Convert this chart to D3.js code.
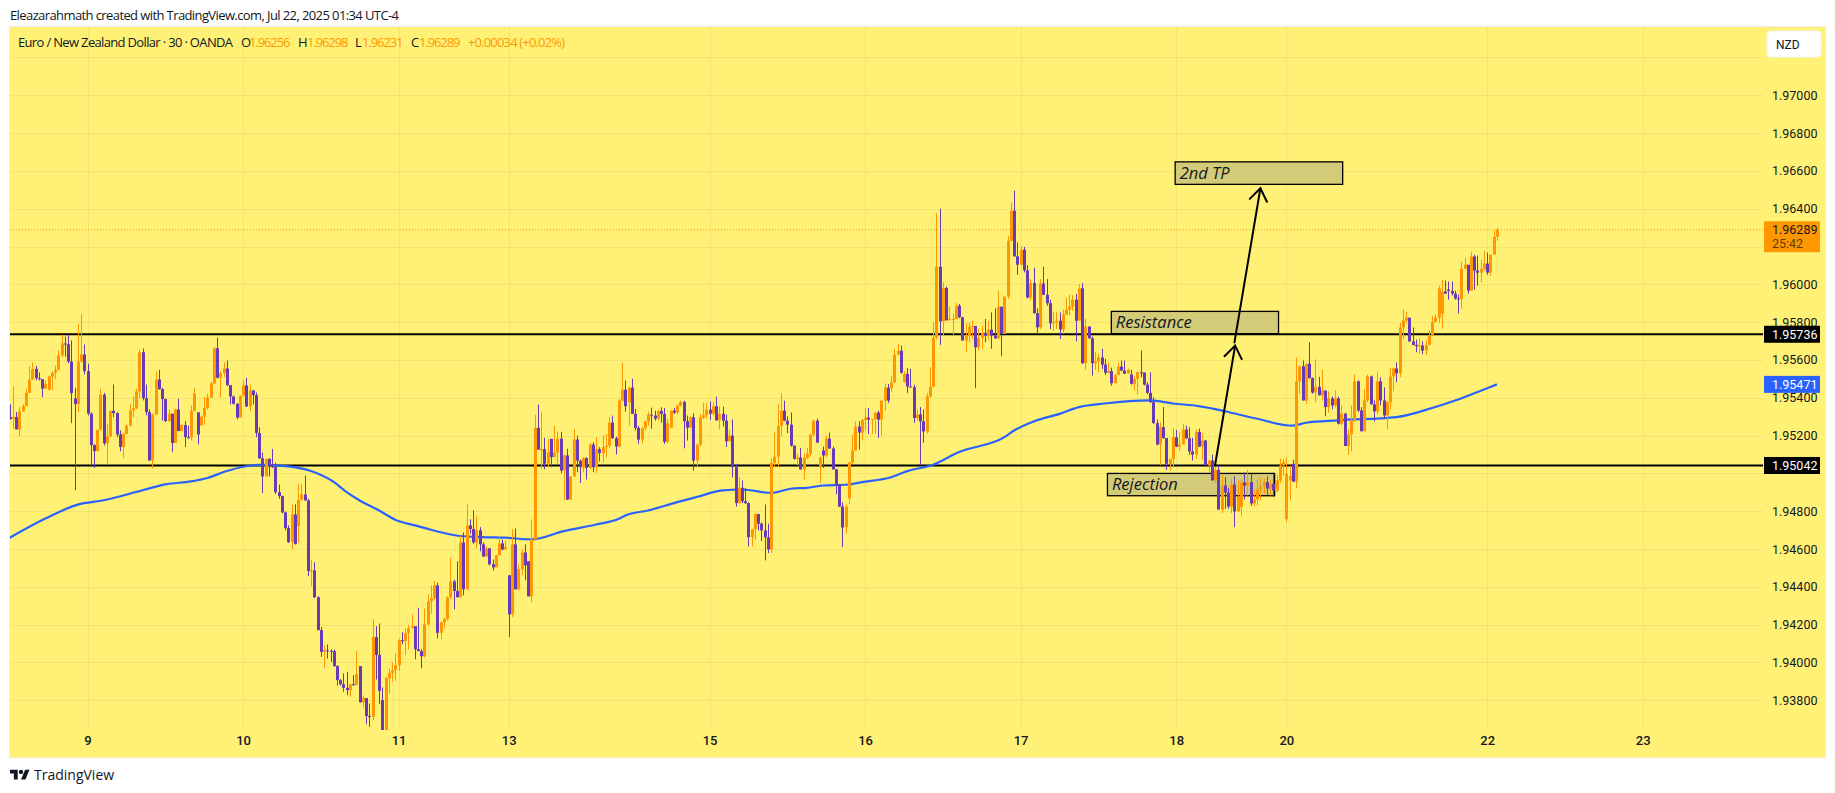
<!DOCTYPE html>
<html>
<head>
<meta charset="utf-8">
<script src="https://cdn.jsdelivr.net/npm/d3@7"></script>
<style>
  html, body { margin: 0; padding: 0; background: #fff; overflow: hidden; }
  svg { display: block; }
  text { font-family: "Open Sans", sans-serif; }
</style>
</head>
<body>
<div id="chart"></div>
<script>
// candle values, pipettes above 1 (95289 = 1.95289). open is the previous close unless listed in gapOpens
const closes = [
95289,95298,95233,95328,95358,95426,95497,95553,95504,95499,
95449,95474,95513,95534,95548,95624,95687,95683,95592,95425,
95367,95592,95629,95541,95316,95150,95118,95231,95416,95159,
95196,95331,95319,95206,95140,95210,95252,95333,95344,95434,
95641,95398,95324,95069,95312,95497,95446,95393,95277,95316,
95161,95338,95224,95256,95192,95191,95331,95423,95206,95300,
95347,95402,95476,95662,95506,95530,95555,95467,95407,95368,
95296,95412,95465,95354,95439,95414,95214,95080,94984,95077,
95038,95033,94901,94880,94794,94711,94637,94783,94626,94861,
94889,94857,94484,94487,94345,94171,94056,94065,94061,94060,
93981,93907,93885,93866,93854,93885,93880,93938,93790,93812,
93717,93713,94134,94040,93850,93590,93917,93944,93959,93986,
94118,94114,94155,94183,94192,94070,94060,94033,94202,94324,
94340,94408,94157,94213,94229,94345,94429,94378,94345,94635,
94387,94725,94706,94635,94699,94625,94561,94604,94519,94503,
94567,94630,94598,94611,94255,94625,94387,94493,94582,94514,
94350,94651,95241,95126,95128,95051,95112,95086,95110,95184,
95015,95095,94862,94984,95179,95068,95033,95081,95029,95153,
95033,95128,95107,95139,95146,95269,95186,95142,95385,95443,
95355,95454,95315,95241,95179,95241,95276,95311,95306,95290,
95330,95315,95167,95264,95332,95322,95359,95378,95276,95242,
95297,95068,95153,95295,95309,95337,95316,95355,95281,95315,
95279,95170,95200,95033,94843,94924,94853,94843,94663,94704,
94785,94734,94699,94662,94598,95056,95089,95253,95332,95279,
95258,95147,95077,95084,95021,95082,95103,95205,95279,95163,
95084,95095,95184,95132,95021,94941,94825,94714,94825,95058,
95121,95248,95216,95283,95295,95285,95288,95322,95285,95385,
95454,95385,95480,95628,95649,95532,95527,95460,95456,95293,
95312,95275,95222,95407,95458,95718,96093,95805,95981,95810,
95817,95817,95887,95826,95703,95729,95777,95780,95667,95717,
95741,95729,95761,95729,95715,95882,95738,95935,96231,96389,
96148,96104,96183,96074,95930,96007,95847,95773,96005,95945,
95900,95794,95798,95808,95761,95840,95866,95882,95919,95808,
95979,95583,95777,95715,95583,95592,95613,95576,95532,95541,
95477,95520,95565,95544,95528,95548,95474,95500,95535,95534,
95470,95426,95377,95266,95153,95245,95187,95051,95077,95191,
95142,95153,95232,95186,95116,95100,95220,95142,95174,95042,
95068,94963,95019,94809,94936,94899,94825,94941,94799,94875,
94952,94936,94954,94841,94862,94915,94931,94954,94920,94945,
94910,94963,95042,95059,95000,94987,94957,95487,95567,95386,
95580,95504,95428,95458,95413,95439,95351,95397,95360,95397,
95263,95316,95145,95207,95279,95487,95333,95223,95386,95513,
95365,95328,95487,95386,95307,95376,95513,95555,95529,95772,
95809,95824,95698,95680,95673,95677,95650,95680,95729,95803,
95824,95978,95962,95951,95965,95951,95925,95923,96083,96104,
95967,96147,96073,96062,96081,96110,96062,96157,96252,96289];

const highs = [
95365,95460,95324,95351,95365,95448,95567,95587,95569,95534,
95492,95492,95518,95537,95571,95650,95734,95724,95734,95703,
95453,95791,95844,95682,95580,95323,95154,95231,95448,95426,
95263,95331,95470,95323,95228,95210,95259,95368,95407,95448,
95654,95661,95470,95340,95316,95541,95548,95453,95397,95338,
95312,95342,95395,95259,95277,95252,95360,95453,95323,95300,
95404,95421,95485,95668,95719,95541,95588,95597,95467,95412,
95372,95412,95492,95506,95470,95442,95428,95245,95110,95077,
95079,95130,95056,94941,94883,94799,94725,94836,94836,94947,
94945,94989,94866,94544,94530,94350,94188,94091,94095,94070,
94069,93986,93912,93942,93951,93889,93933,94060,93981,93826,
93801,93783,94229,94192,94206,93868,93924,93968,94002,94047,
94127,94160,94179,94197,94255,94188,94287,94070,94285,94361,
94408,94429,94422,94213,94236,94350,94553,94438,94535,94672,
94688,94836,94757,94804,94778,94716,94635,94614,94604,94545,
94570,94672,94649,94646,94461,94704,94709,94519,94598,94625,
94535,94757,95309,95364,95327,95188,95183,95183,95253,95221,
95220,95100,95130,94984,95235,95200,95072,95086,95086,95160,
95165,95191,95139,95200,95209,95299,95306,95195,95392,95586,
95491,95459,95501,95341,95251,95244,95276,95327,95348,95332,
95339,95350,95346,95290,95332,95346,95364,95385,95385,95306,
95302,95318,95153,95315,95373,95371,95380,95376,95406,95353,
95353,95311,95230,95285,95051,94980,94963,94924,94846,94704,
94790,94787,94741,94836,94734,95081,95218,95367,95425,95385,
95302,95322,95147,95103,95135,95107,95135,95209,95285,95290,
95089,95142,95200,95216,95142,95024,94945,94846,94836,95058,
95205,95276,95276,95288,95348,95346,95288,95322,95332,95385,
95473,95473,95517,95658,95684,95676,95542,95557,95553,95469,
95338,95351,95338,95426,95562,95799,96377,96400,96011,95989,
95882,95843,95901,95896,95828,95796,95799,95808,95778,95764,
95782,95817,95808,95852,95873,95967,95882,95935,96257,96433,
96495,96222,96204,96199,96102,96028,96088,95873,96028,96093,
96028,95919,95856,95852,95852,95866,95930,95944,95944,95949,
96000,96007,95817,95777,95724,95641,95632,95659,95606,95588,
95560,95527,95588,95597,95597,95553,95548,95518,95539,95650,
95532,95483,95535,95403,95285,95271,95351,95187,95077,95241,
95230,95218,95262,95253,95244,95188,95235,95237,95214,95177,
95068,95100,95042,95042,94989,94980,94924,94971,94984,94963,
94966,95005,95019,94998,94910,94966,94977,94971,94984,94963,
94994,94994,95077,95077,95086,95042,95072,95613,95571,95597,
95580,95694,95508,95603,95511,95550,95430,95434,95407,95439,
95407,95360,95321,95233,95360,95523,95492,95351,95444,95523,
95518,95386,95539,95508,95455,95381,95560,95560,95587,95796,
95867,95856,95819,95772,95708,95715,95698,95703,95756,95835,
95840,95993,96025,96020,96015,96015,95967,95946,96120,96141,
96099,96173,96157,96152,96131,96178,96168,96157,96284,96298];

const lows = [
95284,95233,95233,95198,95328,95356,95425,95495,95492,95492,
95404,95446,95439,95439,95499,95546,95615,95618,95583,95266,
94911,95324,95587,95523,95307,95043,95029,95122,95228,95148,
95048,95192,95298,95192,95117,95082,95206,95249,95298,95340,
95395,95386,95307,95066,95025,95309,95442,95280,95272,95272,
95113,95161,95224,95224,95140,95184,95175,95331,95154,95254,
95259,95338,95397,95474,95502,95402,95509,95463,95365,95365,
95287,95302,95407,95351,95330,95365,95192,95076,94896,94984,
94984,95029,94892,94866,94790,94699,94632,94600,94625,94632,
94857,94857,94456,94403,94341,94171,94030,93970,94021,94003,
93977,93878,93878,93845,93827,93819,93877,93884,93787,93762,
93674,93660,93695,93910,93780,93572,93572,93836,93898,93903,
93956,94097,94039,94069,94179,94017,94060,93970,94026,94197,
94259,94333,94127,94123,94179,94223,94338,94281,94345,94347,
94355,94385,94681,94628,94605,94588,94558,94558,94514,94487,
94514,94565,94593,94600,94134,94241,94387,94382,94461,94435,
94350,94320,94646,95126,95022,95022,95033,95033,95086,95051,
95001,94859,94859,94859,94980,95007,94949,95007,94968,95024,
95007,95003,95063,95059,95086,95133,95183,95100,95139,95381,
95327,95253,95315,95227,95156,95160,95227,95253,95237,95279,
95279,95269,95156,95160,95242,95315,95311,95353,95133,95174,
95248,95015,95033,95142,95288,95290,95283,95306,95278,95234,
95248,95140,95170,94980,94825,94843,94843,94839,94614,94614,
94649,94699,94642,94540,94579,94579,95037,95033,95195,95276,
95213,95142,95073,95042,95021,94968,95077,95089,95195,95163,
94949,95029,95086,95130,95021,94889,94822,94611,94683,94836,
95051,95121,95126,95174,95230,95209,95209,95209,95188,95200,
95332,95373,95429,95482,95624,95527,95479,95426,95456,95268,
95280,95043,95162,95210,95402,95458,95708,95680,95729,95808,
95810,95725,95817,95821,95703,95641,95694,95711,95451,95650,
95659,95694,95708,95659,95711,95708,95620,95738,95923,96227,
96148,96051,96099,96063,95926,95914,95847,95738,95764,95944,
95887,95764,95754,95764,95711,95738,95840,95835,95861,95699,
95808,95579,95549,95711,95518,95548,95535,95553,95521,95530,
95465,95479,95520,95542,95525,95525,95470,95439,95417,95509,
95465,95421,95373,95263,95148,95043,95183,95019,95015,95033,
95139,95121,95156,95183,95098,95068,95077,95139,95072,95042,
95003,94963,94949,94809,94790,94813,94813,94790,94716,94795,
94773,94862,94883,94829,94825,94831,94857,94892,94887,94883,
94875,94901,94949,94989,94743,94857,94954,94922,95421,95386,
95369,95501,95421,95377,95413,95386,95302,95321,95339,95349,
95259,95254,95145,95099,95117,95272,95325,95223,95223,95377,
95365,95275,95312,95360,95289,95233,95339,95434,95483,95509,
95712,95796,95698,95677,95641,95633,95631,95627,95677,95726,
95796,95796,95765,95951,95919,95941,95919,95846,95870,96078,
95951,95967,95972,95993,96011,96073,96051,96046,96157,96231];

const firstOpen = 95298;
// bars whose open is away from the previous close
const gapIdx = [12,20,58,59,89,108,115,154,160,167,191,204,250,251,259,272,276,346,380,394,395,396,442,444];
const gapOpens = [95442,95397,95323,95254,94721,93981,93801,94461,94535,95183,95376,95242,95038,95121,94868,95452,95483,95523,94822,94757,94963,95051,95846,95972];

// moving average at these bars
const maIdx = [0,11,21,29,41,48,56,61,67,77,85,93,100,104,108,114,119,126,130,135,139,146,153,161,171,181,188,190,197,206,212,220,226,235,241,246,251,258,263,272,277,285,293,307,310,316,324,330,338,352,359,367,375,384,396,400,410,428,439,447,456,459];
const maVals = [94660,94761,94835,94858,94911,94942,94958,94976,95013,95045,95039,95013,94955,94901,94857,94804,94755,94721,94702,94681,94669,94663,94660,94651,94695,94730,94760,94778,94804,94848,94875,94910,94915,94897,94919,94924,94936,94940,94954,94980,95012,95046,95113,95192,95227,95275,95315,95351,95370,95386,95370,95356,95329,95293,95253,95268,95281,95298,95346,95391,95451,95471];

const gridPrices = [1.972,1.97,1.968,1.966,1.964,1.962,1.96,1.958,1.956,1.954,1.952,1.95,1.948,1.946,1.944,1.942,1.94,1.938];
// labels under the NZD button and the two price tags do not show
const labelPrices = [1.97,1.968,1.966,1.964,1.96,1.958,1.956,1.954,1.952,1.948,1.946,1.944,1.942,1.94,1.938];
const dayIdx = [24,72,120,154,216,264,312,360,394,456,504];
const dayLabels = ["9","10","11","13","15","16","17","18","20","22","23"];

const levelPrices = [1.95736,1.95042];
const lastPrice = 1.96289, maLast = 1.95471;

// drawn boxes: bar range, price range, label
const boxLabels = ["2nd TP","Resistance","Rejection"];
const boxFrom = [359.7,340,338.8];
const boxTo = [411.4,391.6,390.4];
const boxTop = [1.96648,1.95857,1.95000];
const boxBottom = [1.96529,1.95739,1.94882];

// drawn arrows
const arrowFromIdx = [372,378], arrowFromPrice = [1.95042,1.95693];
const arrowToIdx = [378.2,386], arrowToPrice = [1.95676,1.96508];

const W = 1835, H = 793;
const pane = { left: 10, right: 1763, top: 27, bottom: 730 };
const UP = "#ff9800", DOWN = "#673ab7", BG = "#fff176", GRID = "#f3e373";
const AXIS_FONT = "Roboto, sans-serif";

const toPrice = v => 1 + v / 1e5;
const opens = closes.map((c, i) => {
    const g = gapIdx.indexOf(i);
    if (g >= 0) return gapOpens[g];
    return i === 0 ? firstOpen : closes[i - 1];
});

const svg = d3.select("#chart").append("svg").attr("width", W).attr("height", H);

const x = d3.scaleLinear().domain([24, 504]).range([87.5, 1642.7]);
const y = d3.scaleLinear().domain([1.97, 1.938]).range([95.3, 700.3]);

// header
svg.append("text").attr("x", 10).attr("y", 19.5).attr("fill", "#131722")
   .style("font-size", "13px").attr("textLength", 389).text("Eleazarahmath created with TradingView.com, Jul 22, 2025 01:34 UTC-4");

// panel
svg.append("rect").attr("x", pane.left - 0.5).attr("y", 26.5).attr("width", 1816).attr("height", 731.5)
   .attr("fill", BG).attr("stroke", "#eeeeee");

// grid
svg.append("g").selectAll("line").data(gridPrices).join("line")
   .attr("x1", pane.left).attr("x2", pane.right)
   .attr("y1", d => Math.round(y(d)) + 0.5).attr("y2", d => Math.round(y(d)) + 0.5)
   .attr("stroke", GRID);
svg.append("g").selectAll("line").data(dayIdx).join("line")
   .attr("x1", d => Math.round(x(d)) + 0.5).attr("x2", d => Math.round(x(d)) + 0.5)
   .attr("y1", pane.top).attr("y2", pane.bottom)
   .attr("stroke", GRID);

// current price dotted line
svg.append("line").attr("x1", pane.left).attr("x2", pane.right)
   .attr("y1", y(lastPrice)).attr("y2", y(lastPrice))
   .attr("stroke", UP).attr("stroke-dasharray", "1 2");

// annotation boxes
const boxes = svg.append("g");
boxLabels.forEach((label, i) => {
    boxes.append("rect")
         .attr("x", x(boxFrom[i])).attr("width", x(boxTo[i]) - x(boxFrom[i]))
         .attr("y", y(boxTop[i])).attr("height", y(boxBottom[i]) - y(boxTop[i]))
         .attr("fill", "#d4cb78").attr("stroke", "#000").attr("stroke-width", 1.3);
});

// level lines
svg.append("g").selectAll("line").data(levelPrices).join("line")
   .attr("x1", pane.left).attr("x2", pane.right)
   .attr("y1", d => y(d)).attr("y2", d => y(d))
   .attr("stroke", "#000").attr("stroke-width", 2);

svg.append("defs").append("clipPath").attr("id", "paneClip").append("rect")
   .attr("x", pane.left).attr("y", pane.top)
   .attr("width", pane.right - pane.left).attr("height", pane.bottom - pane.top);
const plot = svg.append("g").attr("clip-path", "url(#paneClip)");

// moving average
const maLine = d3.line().x((d, i) => x(maIdx[i])).y(d => y(toPrice(d))).curve(d3.curveMonotoneX);
plot.append("path").attr("d", maLine(maVals))
    .attr("fill", "none").attr("stroke", "#2962ff").attr("stroke-width", 2.2);

// candles
const candles = plot.selectAll("g.candle").data(closes).join("g").attr("class", "candle")
    .attr("fill", (d, i) => d >= opens[i] ? UP : DOWN);
candles.append("rect")
    .attr("x", (d, i) => Math.round(x(i)))
    .attr("width", 1)
    .attr("y", (d, i) => y(toPrice(highs[i])))
    .attr("height", (d, i) => Math.max(1, y(toPrice(lows[i])) - y(toPrice(highs[i]))));
candles.append("rect")
    .attr("x", (d, i) => Math.round(x(i)) - 1)
    .attr("width", 3)
    .attr("y", (d, i) => y(toPrice(Math.max(d, opens[i]))))
    .attr("height", (d, i) => Math.max(1, Math.abs(y(toPrice(d)) - y(toPrice(opens[i])))));

// arrows
const arrows = svg.append("g").attr("stroke", "#000").attr("stroke-width", 2).attr("fill", "none").attr("stroke-linecap", "round");
arrowFromIdx.forEach((from, i) => {
    const x1 = x(from), y1 = y(arrowFromPrice[i]), x2 = x(arrowToIdx[i]), y2 = y(arrowToPrice[i]);
    const a = Math.atan2(y2 - y1, x2 - x1), len = 15, spread = 0.62;
    arrows.append("line").attr("x1", x1).attr("y1", y1).attr("x2", x2).attr("y2", y2);
    arrows.append("path").attr("d", `M${x2 - len * Math.cos(a - spread)},${y2 - len * Math.sin(a - spread)}L${x2},${y2}L${x2 - len * Math.cos(a + spread)},${y2 - len * Math.sin(a + spread)}`);
});

// annotation labels
boxLabels.forEach((label, i) => {
    svg.append("text").attr("x", x(boxFrom[i]) + 4.5).attr("y", y((boxTop[i] + boxBottom[i]) / 2) + 5.5)
       .attr("fill", "#131722").style("font-size", "16.5px").style("font-style", "italic").text(label);
});

// price axis
const yAxis = svg.append("g").attr("transform", "translate(1772,0)")
    .call(d3.axisRight(y).tickValues(labelPrices).tickSize(0).tickPadding(0).tickFormat(d3.format(".5f")));
yAxis.select(".domain").remove();
yAxis.selectAll("text").attr("fill", "#131722").attr("x", 0)
     .style("font-family", AXIS_FONT).style("font-size", "12.5px").attr("dy", "0.32em");

// time axis
const xAxis = svg.append("g").attr("transform", "translate(0,736)")
    .call(d3.axisBottom(x).tickValues(dayIdx).tickSize(0).tickPadding(0).tickFormat((d, i) => dayLabels[i]));
xAxis.select(".domain").remove();
xAxis.selectAll("text").attr("fill", "#131722").attr("dy", "0.71em").attr("y", 0)
     .style("font-family", AXIS_FONT).style("font-size", "13px").style("font-weight", 500);

// NZD button
svg.append("rect").attr("x", 1767).attr("y", 31).attr("width", 54).attr("height", 26).attr("rx", 4)
   .attr("fill", "#fff").attr("stroke", "#f0f3fa");
svg.append("text").attr("x", 1776).attr("y", 49).attr("fill", "#131722")
   .style("font-family", AXIS_FONT).style("font-size", "12px").text("NZD");

// price tags
const tagPrices = [1.95736, 1.95042, maLast];
const tagFills = ["#000", "#000", "#2962ff"];
tagPrices.forEach((p, i) => {
    svg.append("rect").attr("x", 1764).attr("y", y(p) - 8.5).attr("width", 56).attr("height", 17).attr("fill", tagFills[i]);
    svg.append("text").attr("x", 1772).attr("y", y(p) + 4.5).attr("fill", "#fff")
       .style("font-family", AXIS_FONT).style("font-size", "12.5px").text(d3.format(".5f")(p));
});
svg.append("rect").attr("x", 1764).attr("y", y(lastPrice) - 8.5).attr("width", 56).attr("height", 31).attr("fill", UP);
svg.append("text").attr("x", 1772).attr("y", y(lastPrice) + 4.5).attr("fill", "#131722")
   .style("font-family", AXIS_FONT).style("font-size", "12.5px").text(d3.format(".5f")(lastPrice));
svg.append("text").attr("x", 1772).attr("y", y(lastPrice) + 18.5).attr("fill", "#5d3b00")
   .style("font-family", AXIS_FONT).style("font-size", "12.5px").text("25:42");

// legend
const legendFont = "13px";
const legendBlack = ["Euro / New Zealand Dollar · 30 · OANDA", "O", "H", "L", "C"];
const legendBlackX = [18, 241, 298, 355, 411];
const legendOrange = ["1.96256", "1.96298", "1.96231", "1.96289", "+0.00034 (+0.02%)"];
const legendOrangeX = [249, 307, 362, 419, 468];
legendBlack.forEach((t, i) => {
    svg.append("text").attr("x", legendBlackX[i]).attr("y", 46.5).attr("fill", "#131722")
       .style("font-size", legendFont).attr("textLength", i === 0 ? 215 : null).text(t);
});
legendOrange.forEach((t, i) => {
    svg.append("text").attr("x", legendOrangeX[i]).attr("y", 46.5).attr("fill", UP)
       .style("font-size", legendFont).attr("textLength", i === 4 ? 97 : 41.5).text(t);
});

// footer logo
const logo = svg.append("g").attr("transform", "translate(10,767.5) scale(0.55)").attr("fill", "#131722");
logo.append("path").attr("d", "M14 22H7V11H0V4h14v18zM28 22h-8l7.5-18h8L28 22z");
logo.append("circle").attr("cx", 20).attr("cy", 8).attr("r", 4);
svg.append("text").attr("x", 34).attr("y", 780).attr("fill", "#131722")
   .style("font-size", "14px").text("TradingView");
</script>
</body>
</html>
